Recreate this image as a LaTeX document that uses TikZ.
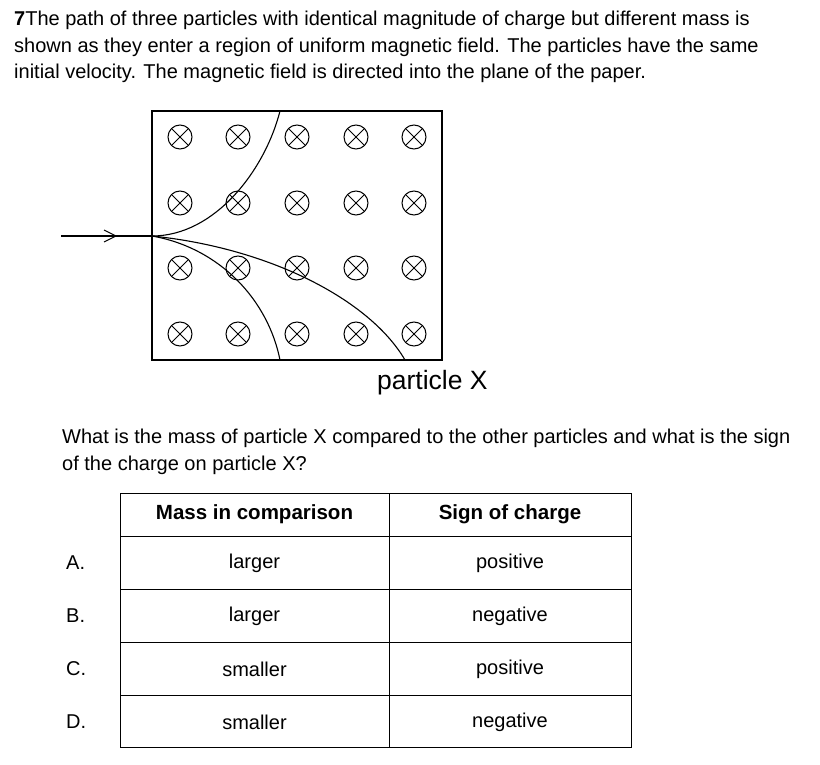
\documentclass[tikz,border=0pt]{standalone}
\usepackage{fontspec}
\setmainfont{Liberation Sans}
\begin{document}
\begin{tikzpicture}[x=1pt,y=-1pt,
  txt/.style={anchor=west,inner sep=0,font=\fontsize{20}{24}\selectfont},
  cell/.style={inner sep=0,font=\fontsize{20}{24}\selectfont},
  path/.style={line width=1.1pt},
  xc/.style={circle,draw,line width=1pt,minimum size=24pt,inner sep=0,path picture={
     \draw[line width=1pt] (path picture bounding box.north west) ++(4,4) -- ([shift={(-4,-4)}]path picture bounding box.south east);
     \draw[line width=1pt] ([shift={(-4,4)}]path picture bounding box.north east) -- ([shift={(4,-4)}]path picture bounding box.south west);}}]
\useasboundingbox (0,0) rectangle (820,765);
\node[txt] (l1) at (14,20) {\textbf{7}The path of three particles with identical magnitude of charge but different mass is};
\node[txt] (l2) at (14,47) {shown as they enter a region of uniform magnetic field. The particles have the same};
\node[txt] (l3) at (14,73) {initial velocity. The magnetic field is directed into the plane of the paper.};
\draw[line width=1.3pt] (152,111) rectangle (442,360);
\foreach \x [count=\i] in {180,238,297,356,414}
  \foreach \y [count=\j] in {137,203,268,334}
    \node[xc] (c\i\j) at (\x,\y) {};
\coordinate (s) at (61,236);
\coordinate (e) at (152,236);
\draw[path] (s) -- (e);
\draw[line width=0.9pt] (104,230) -- (116,236) -- (104,242);
\draw[path] (e) .. controls (215,236) and (265,170) .. (280,111);
\draw[path] (e) .. controls (220,248) and (268,300) .. (280,360);
\draw[path] (e) .. controls (270,248) and (370,300) .. (405,360);
\node[inner sep=0,anchor=west,font=\fontsize{26.5}{30}\selectfont] (px) at (377,383) {particle X};
\node[txt] (q1) at (62,438) {What is the mass of particle X compared to the other particles and what is the sign};
\node[txt] (q2) at (62,465) {of the charge on particle X?};
\draw[line width=0.9pt] (120,493) rectangle (631,747);
\draw[line width=0.9pt] (389,493) -- (389,747);
\foreach \y in {536,589,642,695} \draw[line width=0.9pt] (120,\y) -- (631,\y);
\node[cell,font=\bfseries\fontsize{20.5}{24}\selectfont] (h1) at (254.5,514) {Mass in comparison};
\node[cell,font=\bfseries\fontsize{20.5}{24}\selectfont] (h2) at (510,514) {Sign of charge};
\foreach \l/\m/\s/\y in {A./larger/positive/563,B./larger/negative/616,C./smaller/positive/669,D./smaller/negative/722}{
  \node[cell,anchor=west] at (66,\y) {\l};
  \node[cell] at (254.5,\y) {\m};
  \node[cell] at (510,\y) {\s};
}
\end{tikzpicture}
\end{document}
